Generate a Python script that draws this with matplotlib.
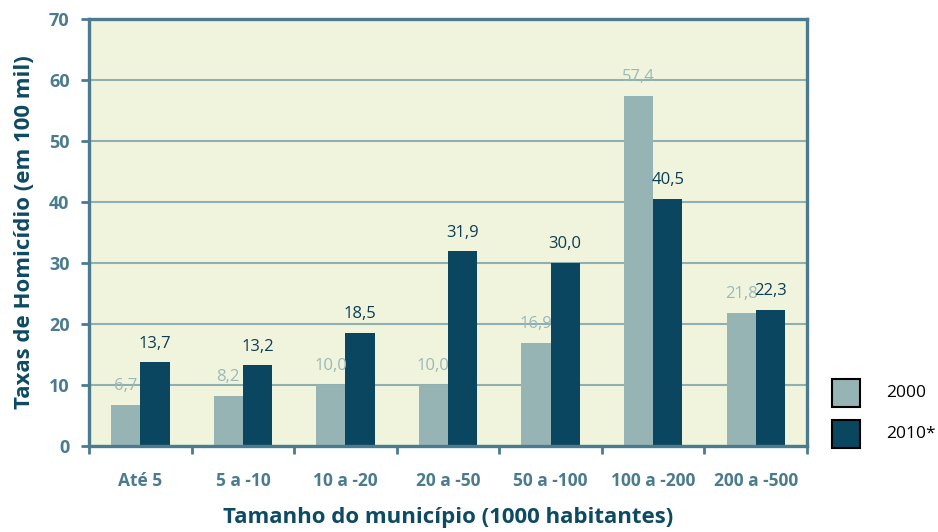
import matplotlib.pyplot as plt
import numpy as np
from matplotlib.patches import Rectangle

# Taxas de homicídio por tamanho do município
categorias = ['Até 5', '5 a -10', '10 a -20', '20 a -50', '50 a -100', '100 a -200', '200 a -500']
taxa_2000 = [6.7, 8.2, 10.0, 10.0, 16.9, 57.4, 21.8]
taxa_2010 = [13.7, 13.2, 18.5, 31.9, 30.0, 40.5, 22.3]
rotulos_2000 = ['6,7', '8,2', '10,0', '10,0', '16,9', '57,4', '21,8']
rotulos_2010 = ['13,7', '13,2', '18,5', '31,9', '30,0', '40,5', '22,3']

cor_2000 = '#97b4b4'
cor_2010 = '#0a4660'
cor_eixo = '#4a7b8e'
cor_fundo = '#f0f4dc'
cor_grade = '#8fb0ae'
cor_titulo = '#0d4a63'

plt.rcParams['font.family'] = ['Open Sans', 'DejaVu Sans']

fig = plt.figure(figsize=(9.38, 5.32), dpi=100)
ax = fig.add_axes([0.0949, 0.1617, 0.7655, 0.8026])
ax.set_facecolor(cor_fundo)

x = np.arange(len(categorias))
w = 0.285
ax.bar(x - w / 2, taxa_2000, w, color=cor_2000, zorder=3)
ax.bar(x + w / 2, taxa_2010, w, color=cor_2010, zorder=3)

for xi, v, t in zip(x, taxa_2000, rotulos_2000):
    ax.text(xi - w / 2, v + 2.4, t, ha='center', va='baseline', fontsize=12,
            color='#9bb8b8', zorder=4)
for xi, v, t in zip(x, taxa_2010, rotulos_2010):
    ax.text(xi + w / 2, v + 2.4, t, ha='center', va='baseline', fontsize=12,
            color='#0b3d55', zorder=4)

ax.set_xlim(-0.5, len(categorias) - 0.5)
ax.set_ylim(0, 70)
ax.set_yticks(range(0, 71, 10))
ax.yaxis.grid(True, color=cor_grade, linewidth=1.5, zorder=1)
ax.set_axisbelow(True)

ax.set_xticks(x)
ax.set_xticklabels(categorias)
ax.set_xticks(np.arange(-0.5, len(categorias)), minor=True)
ax.tick_params(axis='x', which='major', length=0, pad=19, labelsize=12.5,
               labelcolor=cor_eixo)
ax.tick_params(axis='x', which='minor', length=6, width=2, color=cor_eixo,
               direction='out')
ax.tick_params(axis='y', length=6, width=2, color=cor_eixo, labelsize=13,
               labelcolor=cor_eixo, pad=8)
for lab in ax.get_xticklabels() + ax.get_yticklabels():
    lab.set_fontweight('bold')

for s in ax.spines.values():
    s.set_color(cor_eixo)
    s.set_linewidth(2.4)
    s.set_zorder(5)

ax.set_xlabel('Tamanho do município (1000 habitantes)', fontsize=16,
              fontweight='bold', color=cor_titulo, labelpad=12)
ax.set_ylabel('Taxas de Homicídio (em 100 mil)', fontsize=16,
              fontweight='bold', color=cor_titulo, labelpad=10)

# legenda desenhada à parte, à direita do gráfico
for y0, cor, txt in [(125, cor_2000, '2000'), (84, cor_2010, '2010*')]:
    fig.patches.append(Rectangle((832 / 938, y0 / 532), 28 / 938, 28 / 532,
                                 transform=fig.transFigure, facecolor=cor,
                                 edgecolor='black', linewidth=1.5))
    fig.text(886 / 938, (y0 + 14) / 532, txt, fontsize=12.5, color='black',
             va='center', ha='left')

plt.savefig('out.png', dpi=100)
